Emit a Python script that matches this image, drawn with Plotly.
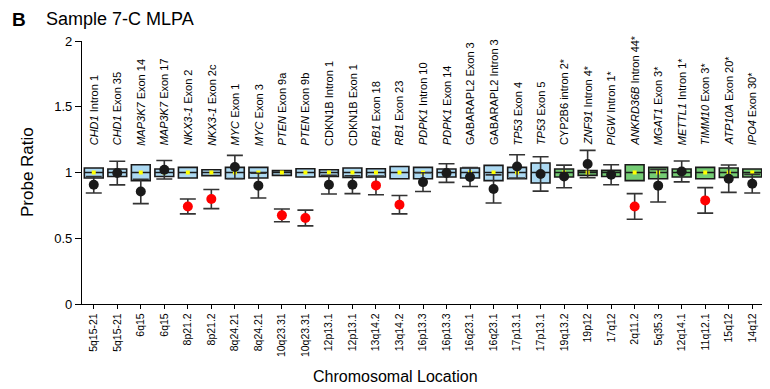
import plotly.graph_objects as go

probe_labels = [
    "<i>CHD1</i> Intron 1", "<i>CHD1</i> Exon 35", "<i>MAP3K7</i> Exon 14", "<i>MAP3K7</i> Exon 17",
    "<i>NKX3-1</i> Exon 2", "<i>NKX3-1</i> Exon 2c", "<i>MYC</i> Exon 1", "<i>MYC</i> Exon 3",
    "<i>PTEN</i> Exon 9a", "<i>PTEN</i> Exon 9b", "CDKN1B Intron 1", "CDKN1B Exon 1",
    "<i>RB1</i> Exon 18", "<i>RB1</i> Exon 23", "<i>PDPK1</i> Intron 10", "<i>PDPK1</i> Exon 14",
    "GABARAPL2 Exon 3", "GABARAPL2 Intron 3", "<i>TP53</i> Exon 4", "<i>TP53</i> Exon 5",
    "CYP2B6 intron 2*", "<i>ZNF91</i> Intron 4*", "<i>PIGW</i> Intron 1*", "<i>ANKRD36B</i> Intron 44*",
    "<i>MGAT1</i> Exon 3*", "<i>METTL1</i> Intron 1*", "<i>TIMM10</i> Exon 3*", "<i>ATP10A</i> Exon 20*",
    "<i>IPO4</i> Exon 30*",
]
locations = [
    "5q15-21", "5q15-21", "6q15", "6q15", "8p21.2", "8p21.2", "8q24.21", "8q24.21",
    "10q23.31", "10q23.31", "12p13.1", "12p13.1", "13q14.2", "13q14.2", "16p13.3", "16p13.3",
    "16q23.1", "16q23.1", "17p13.1", "17p13.1", "19q13.2", "19p12", "17q12", "2q11.2",
    "5q35.3", "12q14.1", "11q12.1", "15q12", "14q12",
]
q1 = [0.958, 0.970, 0.938, 0.970, 0.958, 0.976, 0.953, 0.958, 0.978, 0.966,
      0.970, 0.963, 0.966, 0.953, 0.953, 0.966, 0.958, 0.938, 0.953, 0.920,
      0.966, 0.978, 0.970, 0.938, 0.953, 0.966, 0.953, 0.963, 0.966]
median = [1.0, 1.0, 1.0, 1.0, 1.0, 1.0, 1.0, 1.0, 1.0, 1.0,
          1.0, 1.0, 1.0, 1.0, 1.0, 1.0, 1.0, 1.0, 1.0, 1.0,
          1.0, 1.0, 1.0, 1.0, 1.0, 1.0, 1.0, 1.0, 1.0]
q3 = [1.034, 1.027, 1.059, 1.027, 1.039, 1.021, 1.039, 1.039, 1.014, 1.029,
      1.021, 1.034, 1.029, 1.046, 1.039, 1.027, 1.034, 1.054, 1.039, 1.072,
      1.027, 1.014, 1.016, 1.059, 1.039, 1.027, 1.039, 1.034, 1.027]
ref_mean = [1.0, 1.0, 1.0, 1.0, 1.0, 1.0, 1.0, 1.0, 1.0, 1.0,
            1.0, 1.0, 1.0, 1.0, 1.0, 1.0, 1.0, 1.0, 1.0, 1.0,
            1.0, 1.0, 1.0, 1.0, 1.0, 1.0, 1.0, 1.0, 1.0]
sample_ratio = [0.907, 0.996, 0.856, 1.021, 0.742, 0.798, 1.042, 0.900, 0.674, 0.654,
                0.907, 0.907, 0.902, 0.755, 0.927, 0.996, 0.966, 0.875, 1.046, 0.989,
                0.970, 1.064, 0.983, 0.742, 0.900, 1.008, 0.788, 0.953, 0.915]
sample_err = [0.063, 0.090, 0.093, 0.070, 0.057, 0.073, 0.088, 0.094, 0.049, 0.060,
              0.071, 0.068, 0.071, 0.070, 0.071, 0.071, 0.072, 0.107, 0.089, 0.131,
              0.086, 0.104, 0.076, 0.097, 0.124, 0.079, 0.097, 0.104, 0.071]
deleted = [0, 0, 0, 0, 1, 1, 0, 0, 1, 1,
           0, 0, 1, 1, 0, 0, 0, 0, 0, 0,
           0, 0, 0, 1, 0, 0, 1, 0, 0]
control_probe = [0] * 20 + [1] * 9

xs = list(range(len(locations)))

fig = go.Figure()

for is_ctrl, fill in [(0, "#acd9f2"), (1, "#74cc74")]:
    idx = [i for i in xs if control_probe[i] == is_ctrl]
    fig.add_trace(go.Box(
        x=idx,
        q1=[q1[i] for i in idx],
        median=[median[i] for i in idx],
        q3=[q3[i] for i in idx],
        lowerfence=[q1[i] for i in idx],
        upperfence=[q3[i] for i in idx],
        width=0.8,
        fillcolor=fill,
        line=dict(color="#1a1a1a", width=1.6),
        boxpoints=False,
        showlegend=False,
    ))

fig.add_trace(go.Scatter(
    x=xs, y=ref_mean, mode="markers",
    marker=dict(symbol="square", size=4, color="#ffff00"),
    showlegend=False,
))

fig.add_trace(go.Scatter(
    x=xs, y=sample_ratio, mode="markers",
    marker=dict(size=10, color=["#ff0000" if d else "#1a1a1a" for d in deleted]),
    error_y=dict(type="data", array=sample_err, visible=True, color="#333333",
                 thickness=1.6, width=8),
    showlegend=False,
))

sans = "Liberation Sans, Arial, sans-serif"
annotations = []
for i, lab in enumerate(probe_labels):
    annotations.append(dict(
        x=i, y=1.19, xref="x", yref="y", text=lab, textangle=-90,
        xanchor="center", yanchor="bottom", showarrow=False,
        font=dict(family=sans, size=11, color="#000000"),
    ))

# page offset: the browser body adds 8px margin
OFF = 8
W, H = 770 - OFF, 389 - OFF
L, R, T, B = 82 - OFF, 6, 41 - OFF, 85
pw, ph = W - L - R, H - T - B

def px(x, y):
    return (x - OFF - L) / pw, (H - B - (y - OFF)) / ph

extra = [
    (11, 8, "<b>B</b>", 19, 0, "left", "top"),
    (45, 19, "Sample 7-C MLPA", 18, 0, "left", "middle"),
    (395, 376, "Chromosomal Location", 16, 0, "center", "middle"),
    (27, 172, "Probe Ratio", 17, -90, "center", "middle"),
]
for x, y, t, s, ang, xa, ya in extra:
    ax, ay = px(x, y)
    annotations.append(dict(x=ax, y=ay, xref="paper", yref="paper", text=t, showarrow=False,
                            textangle=ang, xanchor=xa, yanchor=ya, borderpad=0,
                            font=dict(family=sans, size=s, color="#000")))

fig.update_layout(
    width=W, height=H,
    margin=dict(l=L, r=R, t=T, b=B),
    paper_bgcolor="white", plot_bgcolor="white",
    font=dict(family=sans, color="#000"),
    annotations=annotations,
    xaxis=dict(
        range=[-0.5, 28.5], tickmode="array", tickvals=xs, ticktext=locations,
        tickangle=-90, ticks="outside", ticklen=4, tickcolor="#000", tickwidth=1.2,
        showline=True, linecolor="#000", linewidth=1.2, showgrid=False, zeroline=False,
        tickfont=dict(family=sans, size=10.5, color="#000"),
    ),
    yaxis=dict(
        range=[0, 2], tickvals=[0, 0.5, 1, 1.5, 2], ticktext=["0", "0.5", "1", "1.5", "2"],
        ticks="outside", ticklen=6, tickcolor="#000", tickwidth=1.2,
        showline=True, linecolor="#000", linewidth=1.2, showgrid=False, zeroline=False,
        tickfont=dict(size=13, color="#000"),
    ),
)

fig.write_html("out.html")
